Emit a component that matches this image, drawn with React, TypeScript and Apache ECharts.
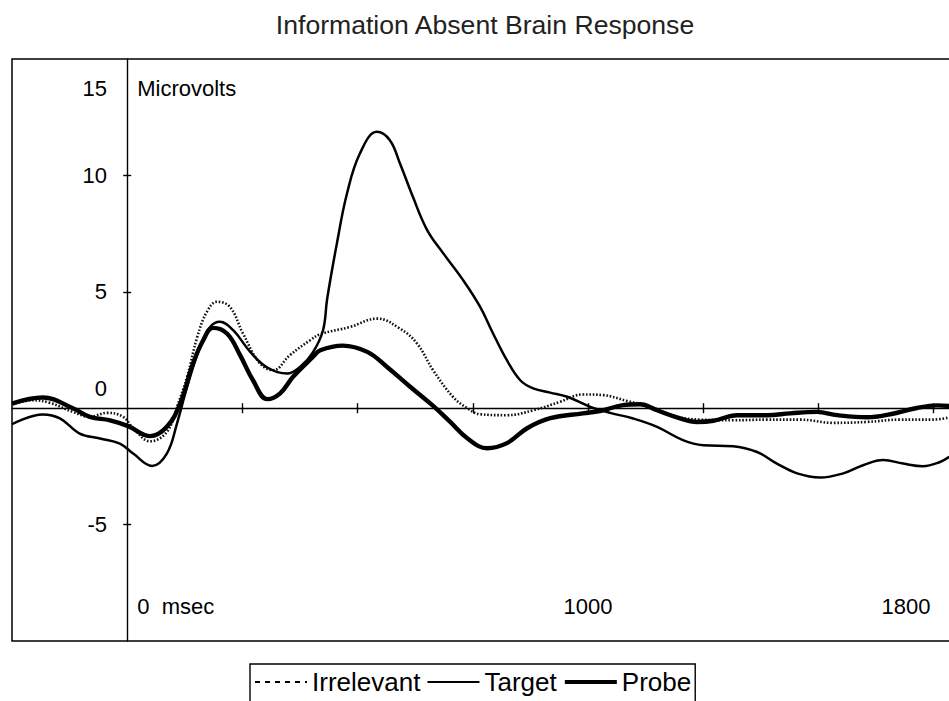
import React, { useEffect, useRef } from "react";
import * as echarts from "echarts";

const titleText = "Information Absent Brain Response";
const yAxisName = "Microvolts";
const seriesNames = ["Irrelevant", "Target", "Probe"];

const xMin = -250;
const xMax = 1790;
const yMin = -10;
const yMax = 15;
const xTickValues = [250, 500, 750, 1000, 1250, 1500, 1750];
const yTickValues = [10, 5, -5];
const yLabelValues = [15, 10, 5, 0, -5];
const xLabelValues = [0, 1000, 1690];
const xLabelTexts = ["0  msec", "1000", "1800"];

// [msec, microvolts]
const irrelevantData: [number, number][] = [
  [-250, 0.16], [-205, 0.34], [-168, 0.23], [-118, -0.16], [-81, -0.37], [-44, -0.2],
  [-9, -0.37], [13, -0.86], [50, -1.42], [86, -1.02], [108, 0.06], [130, 1.35],
  [152, 3.06], [173, 4.14], [195, 4.57], [223, 4.35], [251, 3.22], [288, 1.93],
  [317, 1.63], [353, 2.28], [397, 2.92], [419, 3.18], [484, 3.49], [542, 3.85],
  [592, 3.42], [629, 2.78], [664, 1.63], [707, 0.49], [738, 0], [766, -0.26],
  [824, -0.3], [881, -0.09], [939, 0.27], [989, 0.59], [1033, 0.56], [1085, 0.31],
  [1135, 0.06], [1193, -0.37], [1243, -0.49], [1315, -0.52], [1389, -0.49], [1460, -0.49],
  [1532, -0.63], [1606, -0.59], [1677, -0.49], [1749, -0.49], [1784, -0.4],
];

const targetData: [number, number][] = [
  [-250, -0.69], [-183, -0.27], [-146, -0.44], [-103, -1.09], [-59, -1.3], [-16, -1.52],
  [13, -1.95], [54, -2.48], [86, -1.95], [108, -0.66], [130, 0.92], [158, 2.63],
  [180, 3.49], [201, 3.71], [230, 3.35], [267, 2.42], [304, 1.75], [347, 1.49],
  [375, 1.77], [403, 2.4], [425, 3.35], [434, 4.7], [455, 7.07], [477, 9.22],
  [505, 10.94], [542, 11.87], [570, 11.51], [592, 10.51], [620, 9.08], [651, 7.65],
  [686, 6.65], [729, 5.5], [766, 4.35], [794, 3.21], [824, 2.06], [853, 1.2],
  [881, 0.85], [918, 0.67], [955, 0.49], [1005, 0.06], [1048, -0.2], [1098, -0.44],
  [1150, -0.8], [1206, -1.37], [1250, -1.59], [1315, -1.63], [1367, -1.88], [1410, -2.38],
  [1454, -2.8], [1504, -2.98], [1554, -2.8], [1597, -2.45], [1641, -2.23], [1684, -2.38],
  [1727, -2.49], [1764, -2.31], [1784, -2.09],
];

const probeData: [number, number][] = [
  [-250, 0.2], [-183, 0.46], [-118, 0], [-81, -0.37], [-37, -0.52], [2, -0.77],
  [50, -1.2], [86, -0.8], [115, 0.2], [143, 1.93], [165, 2.92], [186, 3.45],
  [217, 3.2], [245, 2.28], [273, 1.2], [304, 0.39], [332, 0.64], [360, 1.35],
  [403, 2.2], [419, 2.49], [468, 2.69], [521, 2.42], [564, 1.77], [614, 0.92],
  [664, 0.1], [701, -0.59], [738, -1.29], [781, -1.72], [824, -1.5], [868, -0.86],
  [918, -0.43], [989, -0.22], [1026, -0.12], [1076, 0.13], [1113, 0.17], [1150, -0.09],
  [1193, -0.39], [1237, -0.59], [1272, -0.54], [1324, -0.3], [1389, -0.3], [1439, -0.22],
  [1497, -0.16], [1541, -0.3], [1606, -0.39], [1656, -0.26], [1714, 0.01], [1758, 0.12],
  [1784, 0.09],
];

const FONT = "'Liberation Sans', Arial, sans-serif";

export default function App() {
  const ref = useRef<HTMLDivElement>(null);

  useEffect(() => {
    if (!ref.current) return;
    const chart = echarts.init(ref.current, undefined, { renderer: "svg" });
    const axisLine = { color: "#000", width: 1.4 };
    const baseX = {
      type: "value",
      min: xMin,
      max: xMax,
      position: "bottom",
      splitLine: { show: false },
      axisLabel: { show: false },
    };
    const baseY = {
      type: "value",
      min: yMin,
      max: yMax,
      position: "left",
      splitLine: { show: false },
      axisLabel: { show: false },
    };
    chart.setOption({
      animation: false,
      backgroundColor: "#fff",
      textStyle: { fontFamily: FONT },
      title: {
        text: titleText,
        left: 480,
        textAlign: "center",
        top: 6,
        textStyle: { fontFamily: FONT, fontSize: 26.6, fontWeight: "normal", color: "#222" },
      },
      legend: {
        left: 250,
        top: 664,
        orient: "horizontal",
        itemWidth: 52,
        itemHeight: 14,
        itemGap: 6,
        padding: [5, 4, 30, 4],
        borderColor: "#000",
        borderWidth: 1.4,
        itemStyle: { opacity: 0 },
        textStyle: { fontFamily: FONT, fontSize: 26, color: "#000" },
        data: [
          { name: seriesNames[0], lineStyle: { type: [5, 5], width: 2, color: "#000" } },
          { name: seriesNames[1], lineStyle: { width: 2.2, color: "#000" } },
          { name: seriesNames[2], lineStyle: { width: 4.2, color: "#000" } },
        ],
      },
      grid: {
        left: 12,
        right: -3,
        top: 59,
        bottom: 60,
        show: true,
        borderColor: "#000",
        borderWidth: 1.5,
        containLabel: false,
        outerBoundsMode: "none",
      },
      xAxis: [
        {
          ...baseX,
          axisLine: { show: true, onZero: true, lineStyle: axisLine },
          axisTick: { show: true, inside: false, length: 5, customValues: xTickValues, lineStyle: axisLine },
        },
        {
          ...baseX,
          axisLine: { show: false, onZero: true },
          axisTick: { show: true, inside: true, length: 5, customValues: xTickValues, lineStyle: axisLine },
        },
        {
          ...baseX,
          axisLine: { show: false, onZero: false },
          axisTick: { show: false },
          axisLabel: {
            show: true,
            inside: true,
            margin: 24,
            customValues: xLabelValues,
            color: "#000",
            fontSize: 22,
            fontFamily: FONT,
            formatter: (v: number) => {
              const i = xLabelValues.indexOf(v);
              const t = i >= 0 ? xLabelTexts[i] : "";
              return v === 0 ? "{z|" + t + "}" : t;
            },
            rich: { z: { fontSize: 22, fontFamily: FONT, color: "#000", padding: [0, 0, 0, 97] } },
          },
        },
      ],
      yAxis: [
        {
          ...baseY,
          name: yAxisName,
          nameLocation: "end",
          nameGap: -29,
          nameTextStyle: {
            fontFamily: FONT,
            fontSize: 22,
            color: "#000",
            align: "left",
            verticalAlign: "middle",
            padding: [0, 0, 0, 10],
          },
          axisLine: { show: true, onZero: true, lineStyle: axisLine },
          axisTick: { show: true, inside: false, length: 4, customValues: yTickValues, lineStyle: axisLine },
        },
        {
          ...baseY,
          axisLine: { show: false, onZero: true },
          axisTick: { show: true, inside: true, length: 4, customValues: yTickValues, lineStyle: axisLine },
        },
        {
          ...baseY,
          offset: -115,
          axisLine: { show: false, onZero: false },
          axisTick: { show: false },
          axisLabel: {
            show: true,
            margin: 20,
            customValues: yLabelValues,
            color: "#000",
            fontSize: 22,
            fontFamily: FONT,
            formatter: (v: number) => (v === 15 ? "{a|15}" : v === 0 ? "{b|0}" : String(v)),
            rich: {
              a: { fontSize: 22, fontFamily: FONT, color: "#000", padding: [58, 0, 0, 0] },
              b: { fontSize: 22, fontFamily: FONT, color: "#000", padding: [0, 0, 40, 0] },
            },
          },
        },
      ],
      series: [
        {
          name: seriesNames[0],
          type: "line",
          xAxisIndex: 0,
          yAxisIndex: 0,
          data: irrelevantData,
          smooth: 0.4,
          symbol: "none",
          itemStyle: { color: "#000" },
          lineStyle: { color: "#111", width: 2.6, type: [1.6, 1.8] },
          z: 3,
        },
        {
          name: seriesNames[1],
          type: "line",
          xAxisIndex: 0,
          yAxisIndex: 0,
          data: targetData,
          smooth: 0.4,
          symbol: "none",
          itemStyle: { color: "#000" },
          lineStyle: { color: "#000", width: 2.5 },
          z: 4,
        },
        {
          name: seriesNames[2],
          type: "line",
          xAxisIndex: 0,
          yAxisIndex: 0,
          data: probeData,
          smooth: 0.4,
          symbol: "none",
          itemStyle: { color: "#000" },
          lineStyle: { color: "#000", width: 4.4 },
          z: 5,
        },
      ],
    });
    return () => chart.dispose();
  }, []);

  return (
    <div
      ref={ref}
      style={{ position: "absolute", left: 0, top: 0, width: 949, height: 701 }}
    />
  );
}
